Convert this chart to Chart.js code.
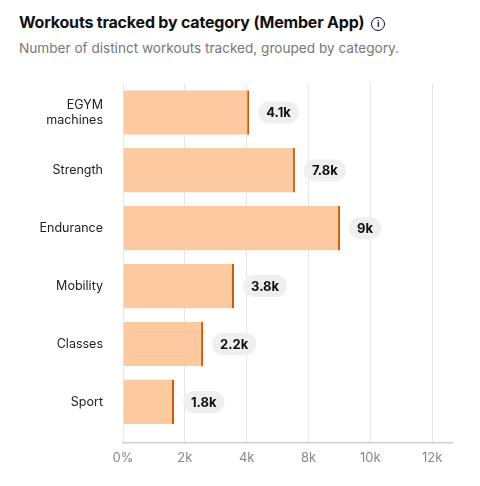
<!DOCTYPE html><html><head><meta charset="utf-8">
<script src="https://cdn.jsdelivr.net/npm/chart.js@4"></script>
<style>
body{margin:0;background:#fff;font-family:Inter,"Noto Sans",sans-serif;}
#t{position:absolute;left:19px;top:12px;font-size:16px;font-weight:700;color:#111;letter-spacing:-0.2px}
#t span{display:inline-block;width:12px;height:12px;border:1.5px solid #111;border-radius:50%;font-size:9px;text-align:center;line-height:12px;margin-left:7px;vertical-align:1px;font-weight:700}
#s{position:absolute;left:19px;top:40px;font-size:13.6px;color:#777}
#w{position:absolute;left:0;top:64px;width:480px;height:422px}
</style></head><body>
<div id="t">Workouts tracked by category (Member App)<span>i</span></div>
<div id="s">Number of distinct workouts tracked, grouped by category.</div>
<div id="w"><canvas id="c"></canvas></div>
<script>
const categories=[["EGYM","machines"],"Strength","Endurance","Mobility","Classes","Sport"];
const values=[4.08,5.56,7.02,3.59,2.59,1.65];
const valueLabels=["4.1k","7.8k","9k","3.8k","2.2k","1.8k"];
const tickLabels=["0%","2k","4k","8k","10k","12k"];
const pills={id:'pills',afterDatasetsDraw(ch){const c=ch.ctx;const m=ch.getDatasetMeta(0);c.save();c.font='700 13px Inter, sans-serif';c.textBaseline='middle';
m.data.forEach((b,i)=>{const t=valueLabels[i];const w=c.measureText(t).width+16;const x=b.x+9,y=b.y,h=22;c.fillStyle='#efefef';c.beginPath();c.roundRect(x,y-h/2,w,h,11);c.fill();c.fillStyle='#111';c.fillText(t,x+8,y+1);});c.restore();}};
new Chart(document.getElementById('c'),{type:'bar',data:{datasets:[{data:values.map((v,i)=>({x:v,y:i})),backgroundColor:'#fdc9a0',borderColor:'#d35a00',borderWidth:{top:0,bottom:0,left:0,right:2},borderSkipped:false,barPercentage:0.77,categoryPercentage:1}]},
options:{indexAxis:'y',responsive:true,maintainAspectRatio:false,animation:false,layout:{padding:{left:10,right:28,top:0,bottom:12}},
plugins:{legend:{display:false},tooltip:{enabled:false}},
scales:{x:{type:'linear',min:0,max:10.64,afterBuildTicks(a){a.ticks=[0,2,4,6,8,10].map(v=>({value:v}));},
ticks:{callback:(v,i)=>tickLabels[i],color:'#888',font:{size:13,family:'Inter'},padding:8},
grid:{color:'#e6e6e6',drawTicks:false},border:{color:'#cfcfcf',width:1.5}},
y:{type:'linear',offset:false,reverse:true,min:-0.5,max:5.7,afterBuildTicks(a){a.ticks=categories.map((c,i)=>({value:i}));},grid:{display:false},border:{display:false},afterFit(a){a.width=113;},ticks:{callback:(v,i)=>categories[i],color:'#222',font:{size:12.5,family:'Inter'},padding:12}}}},plugins:[pills]});
</script></body></html>
